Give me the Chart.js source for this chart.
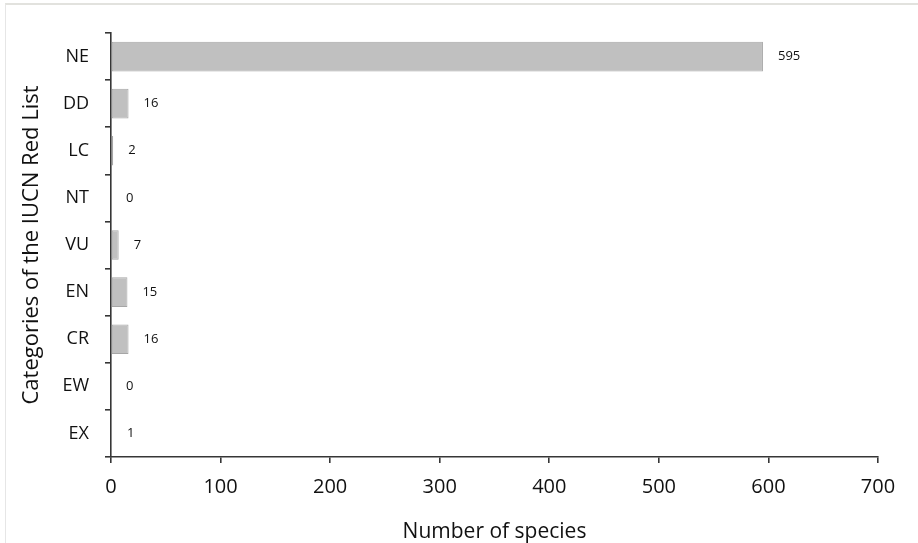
<!DOCTYPE html>
<html>
<head>
<meta charset="utf-8">
<script src="https://cdn.jsdelivr.net/npm/chart.js@4.4.0/dist/chart.umd.min.js"></script>
<style>
  html, body { margin: 0; padding: 0; background: #fff; }
  #wrap { position: relative; width: 918px; height: 543px; }
  #frame {
    position: absolute; left: 5px; top: 3px; right: 0; bottom: 0;
    border-top: 2px solid #e2e2de; border-left: 1px solid #e6e6e6;
    pointer-events: none;
  }
</style>
</head>
<body>
<div id="wrap">
  <canvas id="chart" width="918" height="543"></canvas>
  <div id="frame"></div>
</div>
<script>
// IUCN categories, top to bottom
const categories = ['NE', 'DD', 'LC', 'NT', 'VU', 'EN', 'CR', 'EW', 'EX'];
const speciesCounts = [595, 16, 2, 0, 7, 15, 16, 0, 1];
const xTicks = [0, 100, 200, 300, 400, 500, 600, 700];

const FONT = '"Open Sans"';
const AXIS = '#363636';
const TEXT = '#111';

// value written just right of each bar end
const valueLabels = {
  id: 'valueLabels',
  afterDatasetsDraw(chart) {
    const ctx = chart.ctx;
    const meta = chart.getDatasetMeta(0);
    ctx.save();
    ctx.font = '13px ' + FONT;
    ctx.fillStyle = TEXT;
    ctx.textAlign = 'left';
    ctx.textBaseline = 'middle';
    meta.data.forEach((bar, i) => {
      ctx.fillText(String(speciesCounts[i]), bar.x + 15, bar.y);
    });
    ctx.restore();
  }
};

new Chart(document.getElementById('chart'), {
  type: 'bar',
  data: {
    labels: categories,
    datasets: [{
      data: speciesCounts,
      backgroundColor: '#c0c0c0',
      borderColor: '#a6a6a6',
      borderWidth: 1,
      borderSkipped: false,
      barPercentage: 0.63,
      categoryPercentage: 1
    }]
  },
  options: {
    indexAxis: 'y',
    responsive: false,
    animation: false,
    devicePixelRatio: 1,
    layout: { padding: { top: 33, right: 40, left: 0, bottom: 0 } },
    plugins: { legend: { display: false }, tooltip: { enabled: false } },
    scales: {
      x: {
        min: 0,
        max: 700,
        afterBuildTicks: (scale) => { scale.ticks = xTicks.map(v => ({ value: v })); },
        afterFit: (scale) => { scale.height = 86; },
        border: { display: true, color: AXIS, width: 1.6 },
        grid: { drawOnChartArea: false, drawTicks: true, tickLength: 6, color: AXIS, lineWidth: 1.6 },
        ticks: { color: TEXT, font: { family: FONT, size: 20 }, padding: 12, maxRotation: 0 },
        title: {
          display: true,
          text: 'Number of species',
          color: TEXT,
          font: { family: FONT, size: 21, lineHeight: 1.0 },
          padding: { top: 0, bottom: 0 }
        }
      },
      y: {
        afterFit: (scale) => { scale.width = 111; },
        border: { display: true, color: AXIS, width: 1.6 },
        grid: { drawOnChartArea: false, drawTicks: true, tickLength: 6, color: AXIS, lineWidth: 1.6 },
        ticks: { color: TEXT, font: { family: FONT, size: 18 }, padding: 16 },
        title: {
          display: true,
          text: 'Categories of the IUCN Red List',
          color: TEXT,
          font: { family: FONT, size: 22 },
          padding: { top: 19, bottom: 0 }
        }
      }
    }
  },
  plugins: [valueLabels]
});
</script>
</body>
</html>
